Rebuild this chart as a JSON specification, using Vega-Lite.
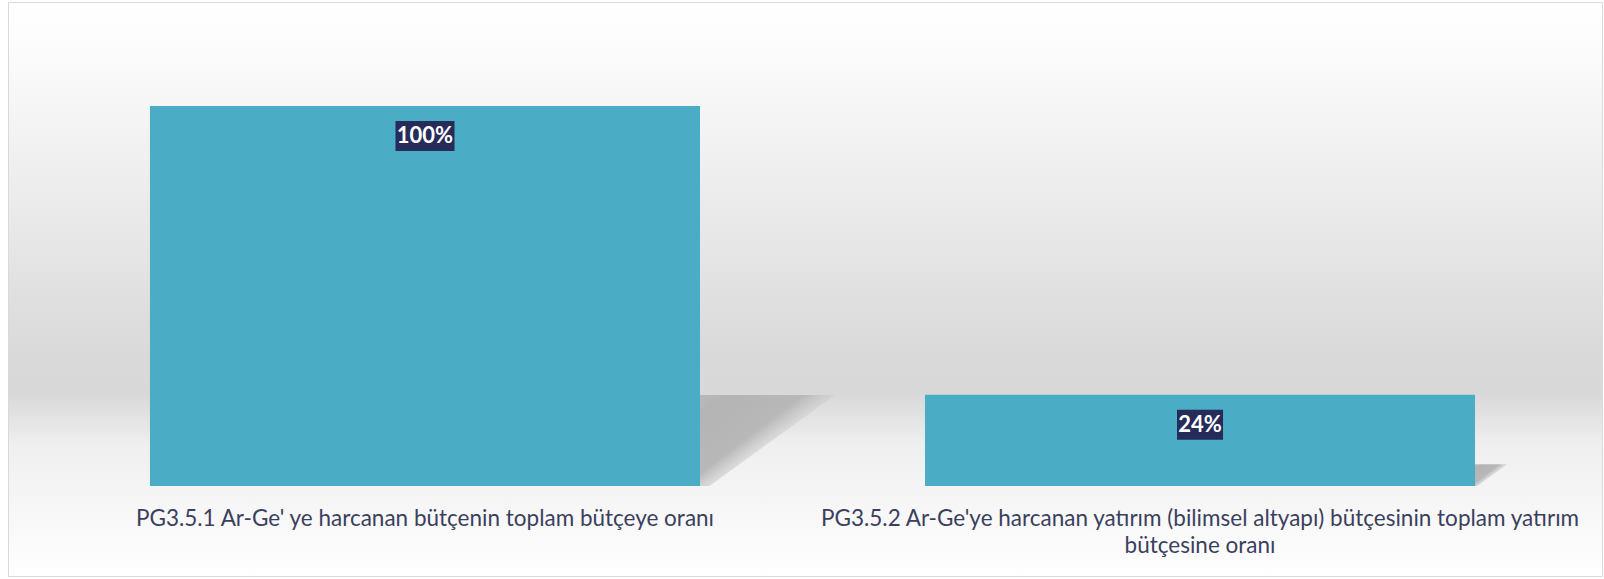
{
  "$schema": "https://vega.github.io/schema/vega-lite/v6.json",
  "width": 1604,
  "height": 579,
  "autosize": {"type": "fit", "contains": "padding"},
  "padding": {"left": 8, "top": 2, "right": 2, "bottom": 3},
  "background": "#ffffff",
  "config": {
    "view": {
      "stroke": "#d9d9d9",
      "strokeWidth": 1,
      "fill": {
        "gradient": "linear",
        "x1": 0, "y1": 0, "x2": 0, "y2": 1,
        "stops": [
          {"offset": 0, "color": "#ffffff"},
          {"offset": 0.08, "color": "#fcfcfc"},
          {"offset": 0.35, "color": "#ebebeb"},
          {"offset": 0.6, "color": "#dadada"},
          {"offset": 0.68, "color": "#d8d8d8"},
          {"offset": 0.77, "color": "#efefef"},
          {"offset": 1, "color": "#ffffff"}
        ]
      }
    }
  },
  "data": {
    "values": [
      {"gosterge": "PG3.5.1 Ar-Ge' ye harcanan bütçenin toplam bütçeye oranı", "oran": 1.0},
      {"gosterge": "PG3.5.2 Ar-Ge'ye harcanan yatırım (bilimsel altyapı) bütçesinin toplam yatırım bütçesine oranı", "oran": 0.24}
    ]
  },
  "encoding": {
    "x": {
      "field": "gosterge",
      "type": "nominal",
      "sort": null,
      "scale": {"paddingInner": 0.2903, "paddingOuter": 0.1735},
      "axis": {
        "orient": "bottom",
        "offset": -90,
        "domain": false,
        "ticks": false,
        "tickSize": 0,
        "labelPadding": 21,
        "labelOffset": 7.5,
        "labelAngle": 0,
        "labelLimit": 0,
        "labelFont": "Lato",
        "labelFontSize": 22.5,
        "labelColor": "#3b3f5e",
        "labelLineHeight": 27,
        "labelExpr": "indexof(datum.label, ' bütçesine') > 0 ? [substring(datum.label, 0, indexof(datum.label, ' bütçesine')), substring(datum.label, indexof(datum.label, ' bütçesine') + 1)] : datum.label",
        "title": null,
        "grid": false
      }
    },
    "y": {
      "field": "oran",
      "type": "quantitative",
      "scale": {"domain": [-0.2368, 1.2737], "nice": false, "zero": false},
      "axis": null
    }
  },
  "layer": [
    {
      "mark": {
        "type": "point",
        "filled": true,
        "opacity": 1,
        "strokeWidth": 0,
        "xOffset": 282.5,
        "shape": "M0,0 L0,-0.479 L0.711,-0.479 L0.05,0 Z",
        "color": {
          "gradient": "linear",
          "x1": 0, "y1": 0.05, "x2": 0.62, "y2": 0.6,
          "stops": [
            {"offset": 0, "color": "rgba(178,178,178,0.85)"},
            {"offset": 0.15, "color": "#b4b4b4"},
            {"offset": 0.65, "color": "#b8b8b8"},
            {"offset": 1, "color": "rgba(215,215,215,0.1)"}
          ]
        }
      },
      "encoding": {
        "y": {"datum": 0},
        "size": {
          "field": "oran",
          "type": "quantitative",
          "scale": {"type": "pow", "exponent": 2, "domain": [0, 1], "range": [0, 144400]},
          "legend": null
        }
      }
    },
    {
      "mark": {"type": "bar", "color": "#4bacc6", "xOffset": 7.5},
      "encoding": {"y2": {"datum": 0}}
    },
    {
      "mark": {"type": "point", "filled": true, "color": "#262b5a", "opacity": 1, "strokeWidth": 0, "size": 3481, "yOffset": 30, "xOffset": 7.5},
      "encoding": {
        "shape": {
          "condition": {"test": "datum.oran >= 1", "value": "M-1,-0.508H1V0.508H-1Z"},
          "value": "M-0.78,-0.508H0.78V0.508H-0.78Z"
        }
      }
    },
    {
      "mark": {"type": "text", "font": "Lato", "fontWeight": "bold", "fontSize": 22, "color": "#ffffff", "baseline": "middle", "align": "center", "dy": 30, "xOffset": 7.5},
      "encoding": {
        "text": {"field": "oran", "type": "quantitative", "format": ".0%"}
      }
    }
  ]
}
